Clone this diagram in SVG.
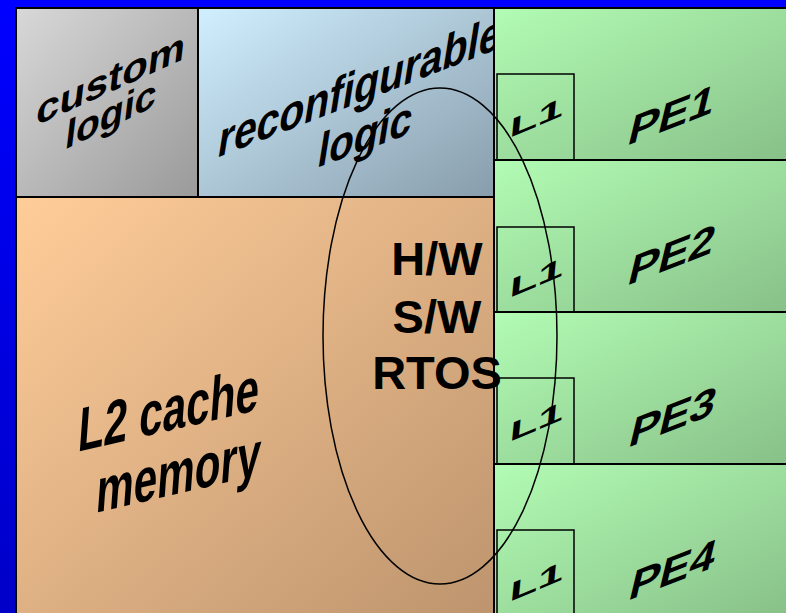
<svg xmlns="http://www.w3.org/2000/svg" width="786" height="613" viewBox="0 0 786 613">
<defs>
<linearGradient id="gBg" x1="0" y1="0" x2="0" y2="1"><stop offset="0" stop-color="#0000ff"/><stop offset="1" stop-color="#0000c8"/></linearGradient>
<linearGradient id="gGray" x1="0" y1="0" x2="1" y2="1"><stop offset="0" stop-color="#d8d8d8"/><stop offset="1" stop-color="#9a9a9a"/></linearGradient>
<linearGradient id="gBlue" x1="0" y1="0" x2="1" y2="1"><stop offset="0" stop-color="#d0efff"/><stop offset="1" stop-color="#889dac"/></linearGradient>
<linearGradient id="gPeach" x1="0" y1="0" x2="1" y2="1"><stop offset="0" stop-color="#ffcd99"/><stop offset="1" stop-color="#bd946e"/></linearGradient>
<linearGradient id="gGreen" x1="0" y1="0" x2="1" y2="1"><stop offset="0" stop-color="#b2fcb4"/><stop offset="1" stop-color="#88c088"/></linearGradient>
</defs>
<style>
.box{stroke:#000;stroke-width:2}
.l1{fill:none;stroke:#000;stroke-width:1.5}
.t{font-family:"Liberation Sans",Arial,sans-serif;font-weight:bold;fill:#000}
</style>
<rect x="0" y="0" width="786" height="613" fill="url(#gBg)"/>
<g id="custom-logic">
<rect class="box" x="16" y="8" width="182" height="189" fill="url(#gGray)"/>
<text class="t" font-size="41" transform="matrix(1.02,-0.46,-0.12,1,35,126)">custom</text>
<text class="t" font-size="41" transform="matrix(0.95,-0.46,-0.12,1,64,150)">logic</text>
</g>
<g id="reconfigurable-logic">
<rect class="box" x="198" y="8" width="296" height="189" fill="url(#gBlue)"/>
<text class="t" font-size="51" transform="matrix(0.8,-0.31,-0.16,1,216,158)">reconfigurable</text>
<text class="t" font-size="49" transform="matrix(0.82,-0.3,-0.16,1,316,168)">logic</text>
</g>
<g id="l2-cache">
<rect class="box" x="16" y="197" width="478" height="420" fill="url(#gPeach)"/>
<text class="t" font-size="63" transform="matrix(0.67,-0.156,-0.074,1,77,452)">L2 cache</text>
<text class="t" font-size="63" transform="matrix(0.67,-0.156,-0.074,1,95,513)">memory</text>
</g>
<g id="pe1">
<rect class="box" x="494" y="8" width="296" height="152" fill="url(#gGreen)"/>
<rect class="l1" x="497" y="74" width="77" height="86"/>
<text class="t" font-size="27" transform="matrix(1.7,-0.71,-0.1,1,509,138)">L1</text>
<text class="t" font-size="43" transform="matrix(1.05,-0.41,-0.24,1,626,146)">PE1</text>
</g>
<g id="pe2">
<rect class="box" x="494" y="160" width="296" height="152" fill="url(#gGreen)"/>
<rect class="l1" x="497" y="227" width="77" height="85"/>
<text class="t" font-size="27" transform="matrix(1.7,-0.71,-0.1,1,509,298)">L1</text>
<text class="t" font-size="43" transform="matrix(1.05,-0.41,-0.24,1,626,286)">PE2</text>
</g>
<g id="pe3">
<rect class="box" x="494" y="312" width="296" height="152" fill="url(#gGreen)"/>
<rect class="l1" x="497" y="378" width="77" height="86"/>
<text class="t" font-size="27" transform="matrix(1.7,-0.71,-0.1,1,509,442)">L1</text>
<text class="t" font-size="43" transform="matrix(1.05,-0.41,-0.24,1,627,448)">PE3</text>
</g>
<g id="pe4">
<rect class="box" x="494" y="464" width="296" height="153" fill="url(#gGreen)"/>
<rect class="l1" x="497" y="530" width="77" height="90"/>
<text class="t" font-size="27" transform="matrix(1.7,-0.71,-0.1,1,509,602)">L1</text>
<text class="t" font-size="43" transform="matrix(1.05,-0.41,-0.24,1,627,601)">PE4</text>
</g>
<g id="connectors">
<ellipse cx="440" cy="336" rx="117" ry="248" fill="none" stroke="#000" stroke-width="1.5"/>
</g>
<g id="hw-sw-rtos">
<text class="t" font-size="47" text-anchor="middle" x="437" y="275">H/W</text>
<text class="t" font-size="47" text-anchor="middle" x="437" y="333">S/W</text>
<text class="t" font-size="47" text-anchor="middle" x="437" y="389">RTOS</text>
</g>
</svg>
